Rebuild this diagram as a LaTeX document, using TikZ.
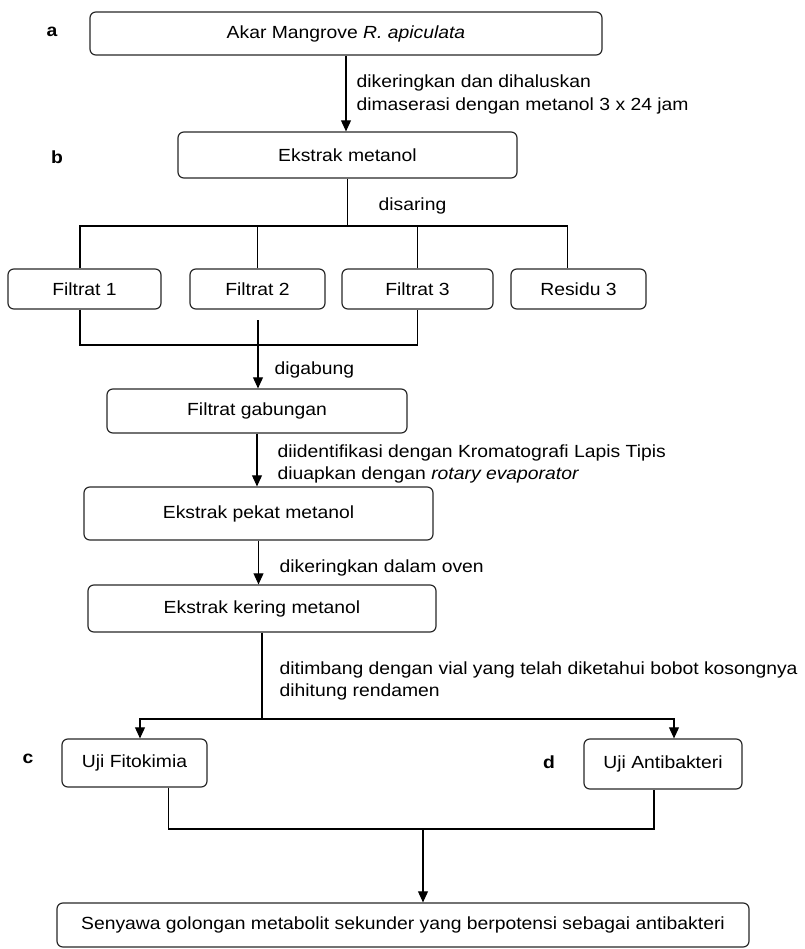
\documentclass[tikz,border=0pt]{standalone}
\usepackage{fontspec}
\setmainfont{Liberation Sans}[FakeStretch=1.1]
\usetikzlibrary{arrows.meta}

\begin{document}
\begin{tikzpicture}[x=0.03cm, y=-0.03cm, line width=1pt,
    box/.style={draw=black!85, rounded corners=5pt, inner sep=0pt, font=\fontsize{15}{19}\selectfont},
    lbl/.style={anchor=west, align=left, inner sep=0pt, font=\fontsize{15}{19.5}\selectfont},
    tag/.style={inner sep=0pt, font=\fontsize{15}{18}\selectfont\bfseries},
    arr/.style={-{Triangle[length=9.5pt,width=8.5pt]}}]
    \useasboundingbox (0,0) rectangle (804,949);

    % Root
    \node[box, minimum width=512*0.03cm, minimum height=43*0.03cm] (akar) at (346,33.5) {Akar Mangrove \textit{R. apiculata}};
    \node[tag] (ta) at (52,32) {a};

    % Maceration
    \node[box, minimum width=339*0.03cm, minimum height=46*0.03cm] (metanol) at (347.5,155) {Ekstrak metanol};
    \node[tag] (tb) at (57,157) {b};
    \draw[arr] (akar.south) -- (akar.south |- metanol.north);
    \node[lbl] (l1) at (356,94.5) {dikeringkan dan dihaluskan\\dimaserasi dengan metanol 3 x 24 jam};

    % Filtration
    \node[box, minimum width=153*0.03cm, minimum height=40*0.03cm] (f1) at (84.5,289) {Filtrat 1};
    \node[box, minimum width=135*0.03cm, minimum height=40*0.03cm] (f2) at (257.5,289) {Filtrat 2};
    \node[box, minimum width=151*0.03cm, minimum height=40*0.03cm] (f3) at (417.5,289) {Filtrat 3};
    \node[box, minimum width=135*0.03cm, minimum height=40*0.03cm] (res) at (578.5,289) {Residu 3};
    \coordinate (split) at (347.5,226);
    \draw (metanol) -- (split);
    \draw ([xshift=-4.5*0.03cm]f1.north) |- (split) -| ([xshift=-11*0.03cm]res.north);
    \draw (f2.north) -- (f2.north |- split);
    \draw (f3.north) -- (f3.north |- split);
    \node[lbl] (l2) at (378,206) {disaring};

    % Combined filtrate
    \node[box, minimum width=300*0.03cm, minimum height=44*0.03cm] (gab) at (257,411) {Filtrat gabungan};
    \coordinate (join) at (258,320);
    \coordinate (bottom) at (250,345);
    \draw ([xshift=-4.5*0.03cm]f1.south) |- (bottom -| f3.south) -- (f3.south);
    \draw[arr] (join) -- (join |- gab.north);
    \node[lbl] (l3) at (274,370) {digabung};

    % Evaporation
    \node[box, minimum width=349*0.03cm, minimum height=53*0.03cm] (pekat) at (258.5,513.5) {Ekstrak pekat metanol};
    \draw[arr] (gab.south) -- (gab.south |- pekat.north);
    \node[lbl] (l4) at (277,464) {diidentifikasi dengan Kromatografi Lapis Tipis\\diuapkan dengan \textit{rotary evaporator}};

    % Drying
    \node[box, minimum width=348*0.03cm, minimum height=47*0.03cm] (kering) at (262,608.5) {Ekstrak kering metanol};
    \draw[arr] (pekat.south) -- (pekat.south |- kering.north);
    \node[lbl] (l5) at (279,568) {dikeringkan dalam oven};

    % Tests
    \node[box, minimum width=145*0.03cm, minimum height=48*0.03cm] (fito) at (134.5,763) {Uji Fitokimia};
    \node[box, minimum width=158*0.03cm, minimum height=50*0.03cm] (anti) at (663,764) {Uji Antibakteri};
    \node[tag] (tc) at (28,759) {c};
    \node[tag] (td) at (549,762) {d};
    \coordinate (branch) at (262,719);
    \draw (kering.south) -- (branch);
    \draw[arr] (branch) -| ([xshift=5.5*0.03cm]fito.north);
    \draw[arr] (branch) -| ([xshift=11*0.03cm]anti.north);
    \node[lbl] (l6) at (279,681) {ditimbang dengan vial yang telah diketahui bobot kosongnya\\dihitung rendamen};

    % Result
    \node[box, minimum width=692*0.03cm, minimum height=44*0.03cm] (hasil) at (403,925) {Senyawa golongan metabolit sekunder yang berpotensi sebagai antibakteri};
    \coordinate (merge) at (423,829);
    \draw ([xshift=34*0.03cm]fito.south) |- (merge) -| ([xshift=-9*0.03cm]anti.south);
    \draw[arr] (merge) -- (merge |- hasil.north);
\end{tikzpicture}
\end{document}
